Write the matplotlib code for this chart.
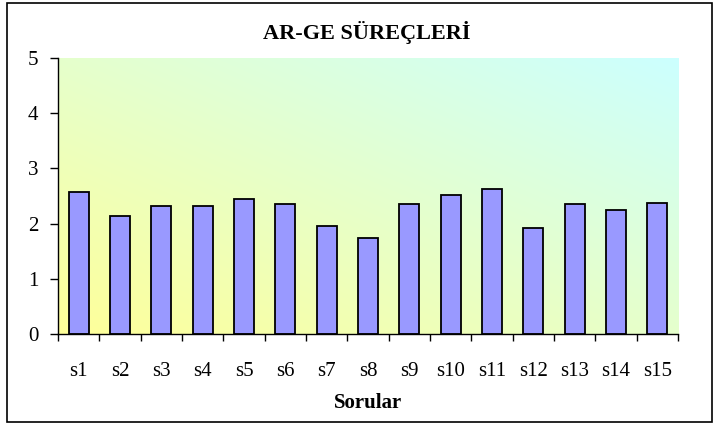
import numpy as np
import matplotlib
matplotlib.use("Agg")
import matplotlib.pyplot as plt
from matplotlib.patches import Rectangle

# Chart data
questions = ["s1", "s2", "s3", "s4", "s5", "s6", "s7", "s8",
             "s9", "s10", "s11", "s12", "s13", "s14", "s15"]
scores = [2.57, 2.14, 2.32, 2.32, 2.44, 2.35, 1.96, 1.74,
          2.35, 2.51, 2.63, 1.92, 2.35, 2.25, 2.38]
y_ticks = [0, 1, 2, 3, 4, 5]

TITLE = "AR-GE SÜREÇLERİ"
XLABEL = "Sorular"

# Colours (Excel-ish)
BAR_COLOR = "#9999FF"
GRAD_START = np.array([255, 255, 153]) / 255.0   # bottom-left
GRAD_END = np.array([204, 255, 255]) / 255.0     # top-right

plt.rcParams["font.family"] = ["Liberation Serif", "DejaVu Serif"]

fig = plt.figure(figsize=(7.2, 4.25), dpi=100)
ax = fig.add_axes([58 / 720, 91 / 425, 620 / 720, 276 / 425])

# diagonal two-colour gradient for the plot area
n = 200
cols = np.linspace(0, 1, n)
rows = np.linspace(1, 0, n)
t = (cols[None, :] + rows[:, None]) / 2.0
grad = GRAD_START[None, None, :] * (1 - t[..., None]) + GRAD_END[None, None, :] * t[..., None]

x = np.arange(len(questions))
ax.imshow(grad, extent=[-0.5, len(questions) - 0.5, 0, 5],
          aspect="auto", zorder=0, interpolation="bilinear")

ax.bar(x, scores, width=0.48, color=BAR_COLOR, edgecolor="black",
       linewidth=1.3, zorder=2)

ax.set_xlim(-0.5, len(questions) - 0.5)
ax.set_ylim(0, 5)
ax.set_yticks(y_ticks)
ax.set_xticks(x)
ax.set_xticklabels(questions)
ax.set_xticks(np.arange(-0.5, len(questions)), minor=True)
ax.tick_params(axis="x", which="major", length=0, pad=20, labelsize=15)
ax.tick_params(axis="x", which="minor", length=5, width=1, direction="out")
ax.tick_params(axis="y", length=6, width=1, direction="out", pad=8, labelsize=15)

for side in ["top", "right"]:
    ax.spines[side].set_visible(False)
ax.spines["left"].set_linewidth(1)
ax.spines["bottom"].set_linewidth(1)

fig.text(367 / 720, 1 - 32 / 425, TITLE, ha="center", va="center",
         fontsize=16, fontweight="bold")
fig.text(368 / 720, 1 - 403 / 425, XLABEL, ha="center", va="center",
         fontsize=15, fontweight="bold")

# outer chart border
fig.patches.append(Rectangle((7 / 720, 3 / 425), 705 / 720, 419 / 425,
                             transform=fig.transFigure, fill=False,
                             edgecolor="black", linewidth=1.2))

fig.savefig("out.png", dpi=100)
